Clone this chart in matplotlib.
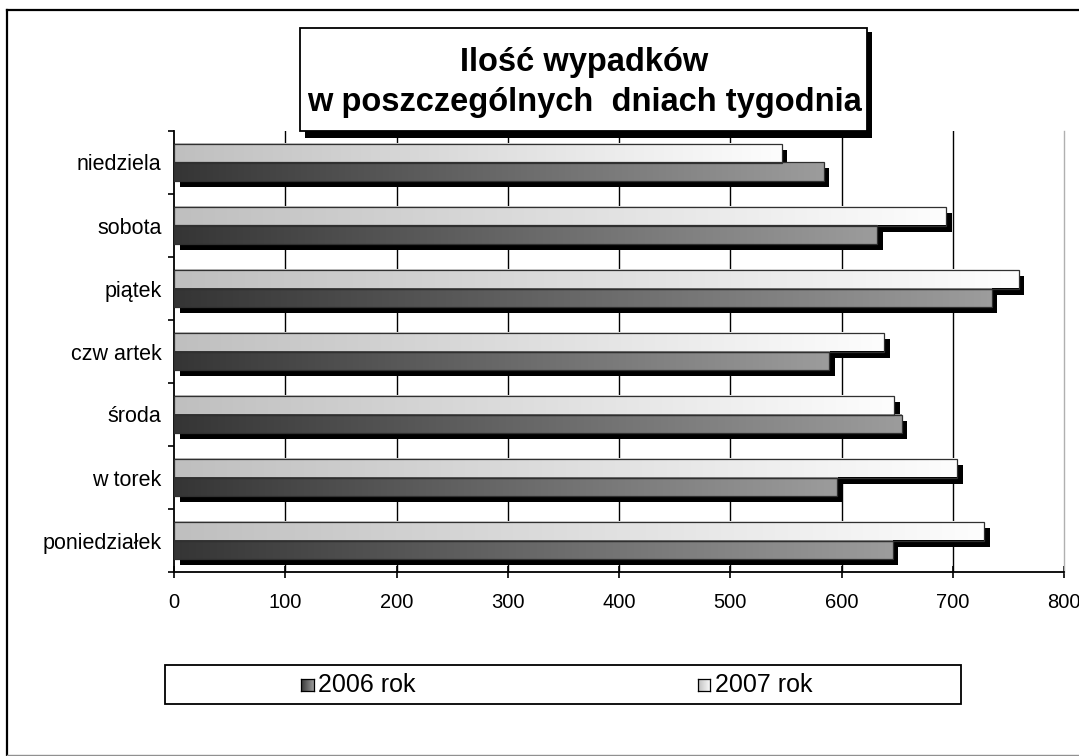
import matplotlib
matplotlib.use("Agg")
import matplotlib.pyplot as plt
import numpy as np
from matplotlib.patches import Rectangle
from matplotlib.colors import LinearSegmentedColormap
from matplotlib.transforms import offset_copy

plt.rcParams['font.family'] = ['Liberation Sans', 'DejaVu Sans']

# ---- data ----
days = ["poniedziałek", "w torek", "środa", "czw artek", "piątek", "sobota", "niedziela"]
acc_2006 = [646, 596, 654, 589, 735, 632, 584]
acc_2007 = [728, 704, 647, 638, 759, 694, 546]
series_labels = ["2006 rok", "2007 rok"]
x_ticks = [0, 100, 200, 300, 400, 500, 600, 700, 800]
title_lines = ["Ilość wypadków", "w poszczególnych  dniach tygodnia"]

W, H = 1079, 756
fig = plt.figure(figsize=(W / 100, H / 100), dpi=100)
fig.patch.set_facecolor("white")

def fx(px):
    return px / W

def fy(py):
    return 1 - py / H

ax = fig.add_axes([fx(174), fy(572), fx(1064.3) - fx(174), fy(131) - fy(572)])

cmap_dark = LinearSegmentedColormap.from_list("d", ["#353535", "#9c9c9c"])
cmap_light = LinearSegmentedColormap.from_list("l", ["#bfbfbf", "#fdfdfd"])
grad = np.linspace(0, 1, 256).reshape(1, -1)

y = np.arange(len(days))
bh = 0.293

# shadows
shadow_tr = offset_copy(ax.transData, fig=fig, x=5.5, y=-6, units='dots')
for vals, off in ((acc_2007, bh / 2), (acc_2006, -bh / 2)):
    sb = ax.barh(y + off, vals, height=bh, color="black", linewidth=0, zorder=1)
    for p in sb:
        p.set_transform(shadow_tr)

# gradient bars
for vals, off, cm in ((acc_2007, bh / 2, cmap_light), (acc_2006, -bh / 2, cmap_dark)):
    for yi, v in zip(y, vals):
        ax.imshow(grad, cmap=cm, aspect="auto", interpolation="bilinear",
                  extent=(0, v, yi + off - bh / 2, yi + off + bh / 2), zorder=2)
    ax.barh(y + off, vals, height=bh, facecolor="none", edgecolor="#303030",
            linewidth=0.9, zorder=3)

ax.set_xlim(0, 800)
ax.set_ylim(-0.5, len(days) - 0.5)
ax.set_xticks(x_ticks)
ax.set_xticklabels([str(t) for t in x_ticks], fontsize=14.5)
ax.set_yticks(y)
ax.set_yticklabels(days, fontsize=15.5)
ax.set_yticks(np.arange(-0.5, len(days), 1), minor=True)
ax.tick_params(axis="y", which="major", length=0, pad=9)
ax.tick_params(axis="y", which="minor", length=4, width=1.2, direction="out")
ax.tick_params(axis="x", length=8, width=1.2, direction="inout", pad=11)

for t in x_ticks[1:-1]:
    ax.axvline(t, color="black", linewidth=1.0, zorder=0.5)
ax.spines["top"].set_visible(False)
ax.spines["right"].set_color("#b0b0b0")
ax.spines["right"].set_linewidth(1.0)
ax.spines["left"].set_linewidth(1.3)
ax.spines["bottom"].set_linewidth(1.3)

# title box
fig.patches.append(Rectangle((fx(305), fy(137.5)), fx(872) - fx(305), fy(32) - fy(137.5),
                             transform=fig.transFigure, facecolor="black", edgecolor="none", zorder=5))
fig.patches.append(Rectangle((fx(300), fy(131)), fx(866.5) - fx(300), fy(28) - fy(131),
                             transform=fig.transFigure, facecolor="white", edgecolor="black",
                             linewidth=1.3, zorder=6))
fig.text(fx(584), fy(62), title_lines[0], ha="center", va="center", fontsize=23.5,
         fontweight="bold", zorder=7)
fig.text(fx(584), fy(103), title_lines[1], ha="center", va="center", fontsize=23.5,
         fontweight="bold", zorder=7)

# legend
fig.patches.append(Rectangle((fx(165), fy(704)), fx(961) - fx(165), fy(665) - fy(704),
                             transform=fig.transFigure, facecolor="white", edgecolor="black",
                             linewidth=1.3, zorder=5))
for lab, cm, mx in ((series_labels[0], cmap_dark, 301), (series_labels[1], cmap_light, 698)):
    max_ = fig.add_axes([fx(mx), fy(691), fx(12.5), fy(678.5) - fy(691)], zorder=8)
    max_.imshow(grad, cmap=cm, aspect="auto", interpolation="bilinear")
    max_.set_xticks([])
    max_.set_yticks([])
    for s in max_.spines.values():
        s.set_linewidth(0.9)
    fig.text(fx(mx + 17), fy(685), lab, ha="left", va="center", fontsize=18, zorder=9)

# outer border
fig.add_artist(plt.Line2D([fx(7), fx(7)], [fy(10), fy(756)], color="black", linewidth=1.6,
                          transform=fig.transFigure))
fig.add_artist(plt.Line2D([fx(7), fx(1079)], [fy(10), fy(10)], color="black", linewidth=1.6,
                          transform=fig.transFigure))
fig.add_artist(plt.Line2D([fx(7), fx(1079)], [fy(755.3), fy(755.3)], color="#909090",
                          linewidth=1.0, transform=fig.transFigure))

fig.savefig("out.png", dpi=100)
